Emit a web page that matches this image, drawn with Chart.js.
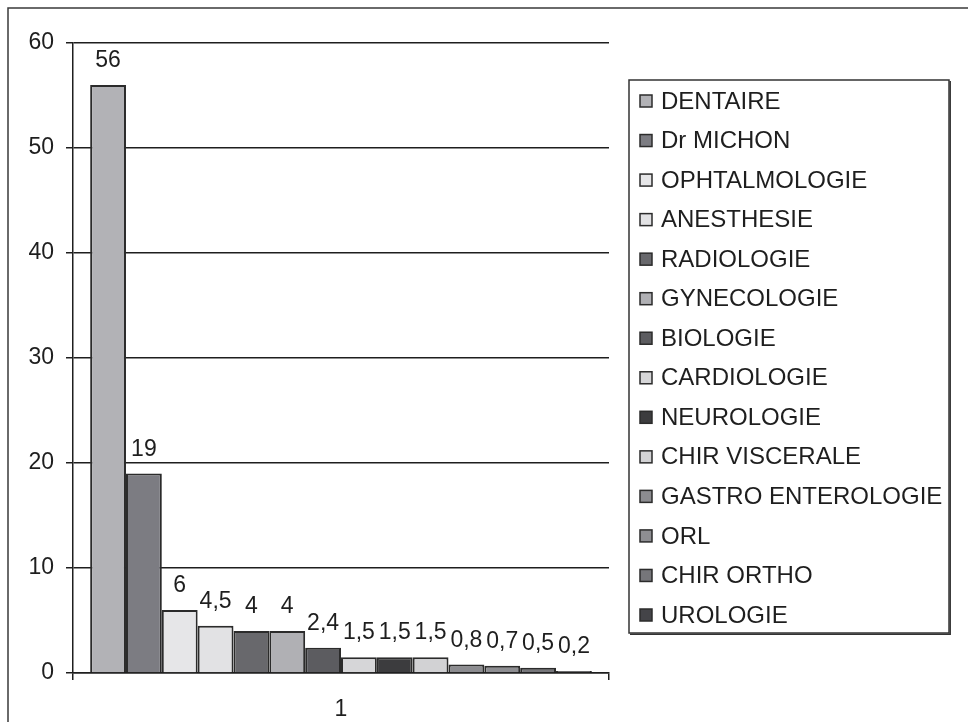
<!DOCTYPE html>
<html>
<head>
<meta charset="utf-8">
<script src="https://cdn.jsdelivr.net/npm/chart.js@4.4.1/dist/chart.umd.min.js"></script>
<style>
  html, body { margin: 0; padding: 0; background: #ffffff; }
  #wrap { width: 968px; height: 722px; position: relative; }
</style>
</head>
<body>
<div id="wrap"><canvas id="chart" width="968" height="722"></canvas></div>
<script>
// Consultations par service
const categories = ['1'];
const services = [
  'DENTAIRE', 'Dr MICHON', 'OPHTALMOLOGIE', 'ANESTHESIE', 'RADIOLOGIE',
  'GYNECOLOGIE', 'BIOLOGIE', 'CARDIOLOGIE', 'NEUROLOGIE', 'CHIR VISCERALE',
  'GASTRO ENTEROLOGIE', 'ORL', 'CHIR ORTHO', 'UROLOGIE'
];
const values = [56, 19, 6, 4.5, 4, 4, 2.4, 1.5, 1.5, 1.5, 0.8, 0.7, 0.5, 0.2];
const yTicks = [0, 10, 20, 30, 40, 50, 60];
const fills = [
  '#b2b2b6', '#7c7c82', '#e6e6e8', '#e2e2e4', '#68686c',
  '#b0b0b4', '#5c5c60', '#d6d6d8', '#3c3c3e', '#d2d2d4',
  '#8c8c90', '#8e8e92', '#76767a', '#444448'
];

const INK = '#1e1e1e';
const FONT = '"Liberation Sans", Arial, sans-serif';

const datasets = services.map((name, i) => ({
  label: name,
  data: [values[i]],
  backgroundColor: fills[i],
  borderColor: '#2b2b2b',
  borderWidth: 2,
  categoryPercentage: 0.936,
  barPercentage: 1.0
}));

// Page frame (top and left rules)
const framePlugin = {
  id: 'frame',
  beforeDraw(chart) {
    const ctx = chart.ctx;
    ctx.save();
    ctx.fillStyle = '#ffffff';
    ctx.fillRect(0, 0, chart.width, chart.height);
    ctx.strokeStyle = '#3a3a3a';
    ctx.lineWidth = 1.5;
    ctx.beginPath();
    ctx.moveTo(8, chart.height);
    ctx.lineTo(8, 8);
    ctx.lineTo(chart.width, 8);
    ctx.stroke();
    ctx.restore();
  }
};

// Value written above each bar, French decimal comma
const valueLabels = {
  id: 'valueLabels',
  afterDatasetsDraw(chart) {
    const ctx = chart.ctx;
    ctx.save();
    ctx.font = '23px ' + FONT;
    ctx.fillStyle = INK;
    ctx.textAlign = 'center';
    ctx.textBaseline = 'alphabetic';
    chart.data.datasets.forEach((ds, i) => {
      const meta = chart.getDatasetMeta(i);
      meta.data.forEach((bar, j) => {
        const txt = String(ds.data[j]).replace('.', ',');
        ctx.fillText(txt, bar.x, bar.y - 18);
      });
    });
    ctx.restore();
  }
};

// Boxed legend on the right
const boxLegend = {
  id: 'boxLegend',
  afterDraw(chart) {
    const ctx = chart.ctx;
    const left = 629, top = 80, right = 949, bottom = 633;
    ctx.save();
    ctx.strokeStyle = '#333333';
    ctx.lineWidth = 1.5;
    ctx.strokeRect(left, top, right - left, bottom - top);
    ctx.beginPath();
    ctx.moveTo(right + 1.2, top + 1);
    ctx.lineTo(right + 1.2, bottom + 1.2);
    ctx.lineTo(left + 1, bottom + 1.2);
    ctx.stroke();
    const n = chart.data.datasets.length;
    const first = 101, step = (615 - 101) / (n - 1);
    ctx.font = '24px ' + FONT;
    ctx.textBaseline = 'middle';
    ctx.textAlign = 'left';
    chart.data.datasets.forEach((ds, i) => {
      const cy = first + i * step;
      ctx.fillStyle = ds.backgroundColor;
      ctx.fillRect(640, cy - 6, 12, 12);
      ctx.strokeStyle = '#2b2b2b';
      ctx.lineWidth = 1.5;
      ctx.strokeRect(640, cy - 6, 12, 12);
      ctx.fillStyle = INK;
      ctx.fillText(ds.label, 661, cy + 1);
    });
    ctx.restore();
  }
};

new Chart(document.getElementById('chart'), {
  type: 'bar',
  data: { labels: categories, datasets },
  plugins: [framePlugin, valueLabels, boxLegend],
  options: {
    responsive: false,
    animation: false,
    devicePixelRatio: 1,
    layout: { padding: { top: 43, right: 359, bottom: 0, left: 0 } },
    plugins: {
      legend: { display: false },
      tooltip: { enabled: false },
      title: { display: false }
    },
    scales: {
      x: {
        offset: true,
        grid: {
          offset: true,
          drawOnChartArea: false,
          drawTicks: true,
          tickLength: 7,
          color: INK,
          lineWidth: 1.5
        },
        border: { display: true, color: INK, width: 1.5 },
        ticks: {
          color: INK,
          font: { family: FONT, size: 23 },
          padding: 16
        },
        afterFit(scale) { scale.height = 49; }
      },
      y: {
        min: 0,
        max: 60,
        afterBuildTicks(scale) { scale.ticks = yTicks.map(v => ({ value: v })); },
        grid: {
          color: INK,
          lineWidth: 1.5,
          tickLength: 7,
          drawTicks: true
        },
        border: { display: true, color: INK, width: 1.5 },
        ticks: {
          color: INK,
          font: { family: FONT, size: 23 },
          padding: 12
        },
        afterFit(scale) { scale.width = 73; }
      }
    }
  }
});
</script>
</body>
</html>
